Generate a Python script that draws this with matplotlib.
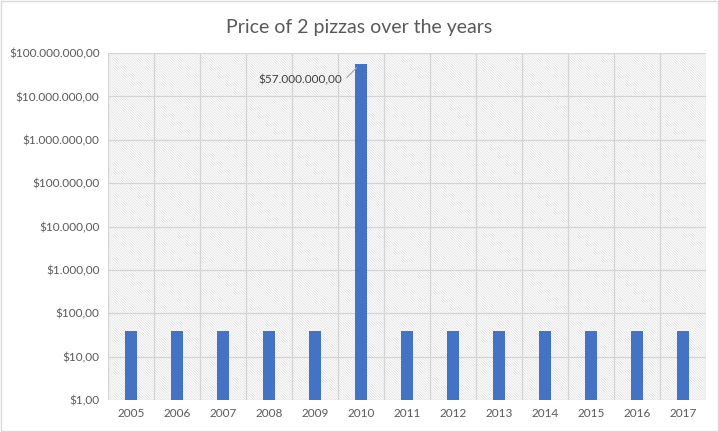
import numpy as np
import matplotlib.pyplot as plt
from matplotlib.patches import Rectangle

# chart data
years = ['2005', '2006', '2007', '2008', '2009', '2010', '2011',
         '2012', '2013', '2014', '2015', '2016', '2017']
prices = [40, 40, 40, 40, 40, 57000000, 40, 40, 40, 40, 40, 40, 40]
y_ticks = [1, 10, 100, 1e3, 1e4, 1e5, 1e6, 1e7, 1e8]
y_labels = ['$1,00', '$10,00', '$100,00', '$1.000,00', '$10.000,00',
            '$100.000,00', '$1.000.000,00', '$10.000.000,00', '$100.000.000,00']
peak_label = '$57.000.000,00'

plt.rcParams['font.family'] = ['Lato', 'DejaVu Sans']
plt.rcParams['hatch.linewidth'] = 0.5

fig = plt.figure(figsize=(7.19, 4.32), dpi=100)
ax = fig.add_axes([0.150, 0.074, 0.832, 0.803])

x = np.arange(len(years))
ax.set_yscale('log')
ax.set_ylim(1, 1e8)
ax.set_xlim(-0.5, len(years) - 0.5)

# hatched plot area
ax.add_patch(Rectangle((0, 0), 1, 1, transform=ax.transAxes, facecolor='white',
                       edgecolor='#dedede', linewidth=0, hatch='\\' * 13, zorder=0))

ax.bar(x, prices, width=0.27, color='#4472c4', zorder=3)

# gridlines
for yt in y_ticks:
    ax.axhline(yt, color='#d4d4d4', lw=0.9, zorder=1)
for xb in np.arange(-0.5, len(years), 1.0):
    ax.axvline(xb, color='#d4d4d4', lw=0.9, zorder=1)

ax.set_xticks(x)
ax.set_xticklabels(years)
ax.set_yticks(y_ticks)
ax.set_yticklabels(y_labels)
ax.minorticks_off()
ax.tick_params(axis='both', length=0, labelsize=8.5, colors='#595959', pad=6)
for s in ax.spines.values():
    s.set_visible(False)

i = prices.index(max(prices))
ax.annotate(peak_label, xy=(x[i] - 0.05, prices[i] * 0.9), xytext=(-12, -10),
            textcoords='offset points', ha='right', va='center', fontsize=8.5,
            color='#404040',
            arrowprops=dict(arrowstyle='-', color='#a6a6a6', lw=0.8,
                            connectionstyle='angle,angleA=0,angleB=45,rad=0'),
            zorder=5)

fig.suptitle('Price of 2 pizzas over the years', y=0.955, fontsize=14, color='#595959')
fig.patches.append(Rectangle((0.001, 0.002), 0.997, 0.995, transform=fig.transFigure,
                             fill=False, edgecolor='#d9d9d9', lw=1))

fig.savefig('out.png', dpi=100)
